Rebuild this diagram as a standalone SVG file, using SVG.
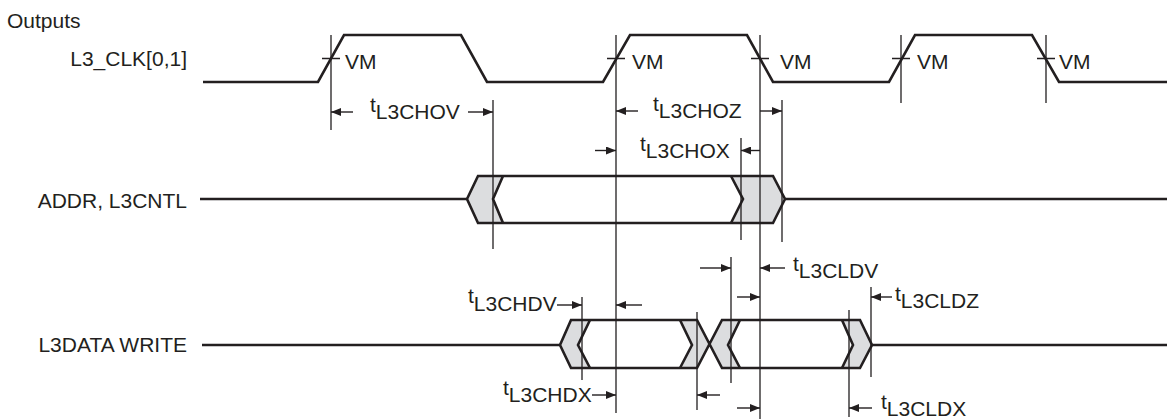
<svg xmlns="http://www.w3.org/2000/svg" width="1167" height="419" viewBox="0 0 1167 419">
<style>
text{font-family:"Liberation Sans",Arial,sans-serif;font-size:21px;fill:#231f20}
.sig{fill:none;stroke:#231f20;stroke-width:2.6;stroke-linejoin:miter}
.bus{fill:#dcdddf;stroke:none}
.in{fill:#fff;stroke:none}
.ref{stroke:#231f20;stroke-width:1.3;fill:none}
.arr{stroke:#231f20;stroke-width:1.4;fill:none;marker-end:url(#ah)}
</style>
<defs>
<marker id="ah" viewBox="0 0 10 8" refX="10" refY="4" markerWidth="10" markerHeight="8" markerUnits="userSpaceOnUse" orient="auto">
<path d="M0,0 L10,4 L0,8 Z" fill="#231f20"/>
</marker>
</defs>
<rect width="1167" height="419" fill="#fff"/>

<g id="labels">
<text x="7" y="28">Outputs</text>
<text x="187" y="66" text-anchor="end">L3_CLK[0,1]</text>
<text x="187" y="208" text-anchor="end">ADDR, L3CNTL</text>
<text x="187" y="352" text-anchor="end">L3DATA WRITE</text>
</g>

<g id="clk">
<path class="sig" d="M203,82 L318,82 L344,35 L461,35 L487,82 L603,82 L630,35 L747,35 L773,82 L889,82 L915,35 L1032,35 L1059,82 L1167,82"/>
<path class="ref" d="M322,58.5 H340 M607,58.5 H625 M751,58.5 H769 M892,58.5 H910 M1037,58.5 H1055"/>
<text x="345" y="69">VM</text>
<text x="632" y="69">VM</text>
<text x="780" y="69">VM</text>
<text x="917" y="69">VM</text>
<text x="1059" y="69">VM</text>
</g>

<g id="addr">
<path class="sig" d="M200,199 H467 M785,199 H1167"/>
<polygon class="bus" points="467,199 478,176 773,176 785,199 773,223 478,223"/>
<polygon class="in" points="503,176 731,176 743,199 731,223 503,223 493,199"/>
<polygon class="sig" points="467,199 478,176 773,176 785,199 773,223 478,223"/>
<path class="sig" d="M503,176 L493,199 L503,223 M731,176 L743,199 L731,223"/>
</g>

<g id="data">
<path class="sig" d="M202,345 H560 M872,345 H1167"/>
<polygon class="bus" points="560,345 571,320 697,320 710,345 697,368 571,368"/>
<polygon class="bus" points="710,345 722,320 860,320 872,345 860,368 722,368"/>
<polygon class="in" points="590,320 680,320 692,345 680,368 590,368 578,345"/>
<polygon class="in" points="740,320 842,320 853,345 842,368 740,368 728,345"/>
<path class="sig" d="M560,345 L571,320 H697 L722,368 H860 L872,345 L860,320 H722 L697,368 H571 Z"/>
<path class="sig" d="M590,320 L578,345 L590,368 M680,320 L692,345 L680,368 M740,320 L728,345 L740,368 M842,320 L853,345 L842,368"/>
</g>

<g id="connectors">
<path class="ref" d="M331,35 V130 M616,35 V413 M760,35 V419 M901,35 V103 M1046,35 V103 M493,100 V249 M782,100 V242 M741,138 V240 M582,297 V380 M697,312 V410 M731,257 V383 M849,310 V417 M871,287 V377"/>
<line class="arr" x1="353" y1="112" x2="331" y2="112"/>
<line class="arr" x1="468" y1="112" x2="493" y2="112"/>
<line class="arr" x1="638" y1="111" x2="616" y2="111"/>
<line class="arr" x1="760" y1="111" x2="782" y2="111"/>
<line class="arr" x1="595" y1="150.5" x2="616" y2="150.5"/>
<line class="arr" x1="760" y1="150.5" x2="741" y2="150.5"/>
<line class="arr" x1="557" y1="305" x2="582" y2="305"/>
<line class="arr" x1="642" y1="305" x2="616" y2="305"/>
<line class="arr" x1="592" y1="395" x2="616" y2="395"/>
<line class="arr" x1="720" y1="395" x2="697" y2="395"/>
<line class="arr" x1="700" y1="268" x2="731" y2="268"/>
<line class="arr" x1="785" y1="268" x2="760" y2="268"/>
<line class="arr" x1="737" y1="297" x2="760" y2="297"/>
<line class="arr" x1="892" y1="297" x2="871" y2="297"/>
<line class="arr" x1="737" y1="408" x2="760" y2="408"/>
<line class="arr" x1="872" y1="408" x2="849" y2="408"/>
</g>

<g id="timing-labels">
<text x="370" y="112">t<tspan dy="7">L3CHOV</tspan></text>
<text x="653" y="111">t<tspan dy="7">L3CHOZ</tspan></text>
<text x="640" y="151">t<tspan dy="7">L3CHOX</tspan></text>
<text x="468" y="303">t<tspan dy="8">L3CHDV</tspan></text>
<text x="503" y="395">t<tspan dy="7">L3CHDX</tspan></text>
<text x="793" y="271">t<tspan dy="7">L3CLDV</tspan></text>
<text x="895" y="301">t<tspan dy="7">L3CLDZ</tspan></text>
<text x="881" y="409">t<tspan dy="7">L3CLDX</tspan></text>
</g>
</svg>
